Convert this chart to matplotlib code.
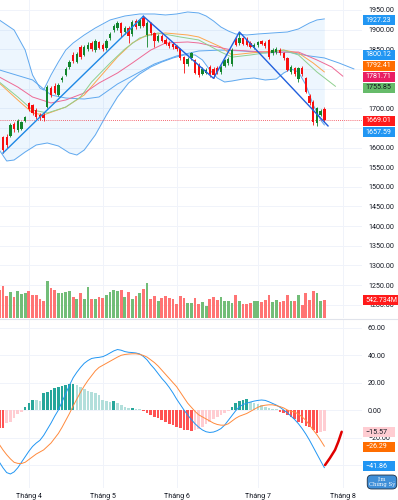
import matplotlib
matplotlib.use('Agg')
import matplotlib.pyplot as plt
from matplotlib.patches import Rectangle
import numpy as np

plt.rcParams['font.family'] = ['Roboto', 'DejaVu Sans']

# ---------------- data (daily bars, index 0..88) ----------------
opens = [1696, 1627, 1628, 1630, 1660, 1645, 1648, 1668, 1713, 1708,
         1696, 1684, 1684, 1703, 1751, 1756, 1733, 1771, 1785, 1805,
         1836, 1818, 1855, 1836, 1850, 1866, 1848, 1868, 1862, 1852,
         1878, 1898, 1905, 1917, 1894, 1904, 1888, 1922, 1908, 1930,
         1886, 1916, 1891, 1872, 1884, 1874, 1866, 1864, 1858, 1850,
         1830, 1812, 1828, 1822, 1810, 1788, 1790, 1806, 1800, 1803,
         1792, 1808, 1815, 1812, 1875, 1866, 1878, 1876, 1866, 1853,
         1860, 1870, 1866, 1873, 1840, 1843, 1848, 1840, 1828, 1792,
         1802, 1774, 1802, 1776, 1730, 1716, 1662, 1684, 1697]
closes = [1637, 1594, 1606, 1657, 1648, 1668, 1664, 1677, 1697, 1688,
          1678, 1675, 1674, 1755, 1733, 1740, 1759, 1777, 1800, 1818,
          1820, 1838, 1830, 1855, 1862, 1850, 1872, 1854, 1850, 1872,
          1890, 1910, 1916, 1892, 1904, 1885, 1920, 1906, 1924, 1910,
          1917, 1891, 1870, 1884, 1872, 1864, 1858, 1855, 1850, 1828,
          1812, 1826, 1840, 1790, 1785, 1800, 1798, 1786, 1784, 1792,
          1806, 1822, 1826, 1848, 1862, 1878, 1864, 1862, 1856, 1862,
          1868, 1864, 1858, 1830, 1848, 1851, 1840, 1828, 1798, 1805,
          1786, 1802, 1786, 1742, 1714, 1664, 1700, 1694, 1669.01]
highs = [1700, 1630, 1634, 1662, 1666, 1672, 1668, 1681, 1717, 1712,
         1700, 1688, 1690, 1758, 1757, 1764, 1763, 1783, 1805, 1822,
         1842, 1842, 1860, 1860, 1868, 1872, 1876, 1872, 1866, 1876,
         1894, 1914, 1922, 1920, 1908, 1908, 1924, 1926, 1928, 1934,
         1921, 1920, 1895, 1888, 1888, 1878, 1870, 1868, 1862, 1854,
         1834, 1830, 1844, 1826, 1814, 1805, 1802, 1810, 1804, 1808,
         1810, 1826, 1830, 1852, 1880, 1894, 1882, 1880, 1870, 1866,
         1872, 1874, 1870, 1876, 1852, 1855, 1852, 1844, 1831, 1809,
         1806, 1806, 1808, 1780, 1735, 1720, 1704, 1698, 1702]
lows = [1632, 1586, 1600, 1626, 1640, 1640, 1644, 1664, 1694, 1684,
        1672, 1671, 1667, 1700, 1728, 1736, 1730, 1766, 1782, 1800,
        1816, 1814, 1826, 1832, 1846, 1846, 1844, 1850, 1845, 1848,
        1874, 1894, 1900, 1880, 1890, 1866, 1884, 1902, 1904, 1906,
        1856, 1886, 1856, 1868, 1868, 1860, 1854, 1851, 1846, 1824,
        1790, 1808, 1824, 1786, 1780, 1784, 1786, 1780, 1776, 1788,
        1788, 1804, 1810, 1808, 1858, 1862, 1860, 1858, 1852, 1850,
        1856, 1860, 1854, 1826, 1836, 1839, 1836, 1824, 1794, 1788,
        1782, 1768, 1782, 1738, 1708, 1658, 1656, 1680, 1666]
volume_m = [830, 958, 661, 759, 623, 789, 720, 741, 789, 691,
            691, 563, 513, 1085, 890, 818, 741, 741, 771, 789,
            611, 572, 741, 563, 919, 572, 572, 611, 593, 691,
            759, 839, 809, 839, 623, 759, 572, 661, 741, 860,
            1038, 563, 640, 492, 593, 661, 593, 563, 424, 643,
            593, 442, 442, 593, 424, 463, 365, 563, 623, 543,
            611, 492, 513, 442, 691, 492, 415, 415, 442, 513,
            492, 463, 543, 691, 463, 543, 463, 492, 691, 492,
            513, 691, 394, 741, 543, 809, 741, 513, 542.734]

# Bollinger bands (read at sampled bars)
bb_upper_idx = [0, 4, 7, 9, 11, 12, 14, 16, 18, 20, 23, 26, 30, 34, 38, 42, 45, 48,
                51, 54, 56, 58, 60, 62, 64, 67, 70, 74, 78, 81, 84, 86, 88]
bb_upper = [1924.6, 1899.1, 1848.2, 1784.6, 1751.5, 1746.4, 1784.6, 1817.7, 1848.2,
            1866.0, 1886.4, 1904.2, 1924.6, 1934.7, 1939.8, 1939.8, 1937.3, 1939.8,
            1944.9, 1942.4, 1934.7, 1922.0, 1906.7, 1896.6, 1888.9, 1886.4, 1888.9,
            1891.5, 1894.0, 1901.7, 1916.9, 1924.6, 1927.23]
bb_lower_idx = [0, 2, 4, 7, 10, 13, 16, 19, 21, 23, 26, 29, 32, 35, 38, 41, 44, 47,
                50, 53, 55, 57, 59, 61, 63, 66, 69, 72, 75, 77, 79, 81, 83, 85, 87, 88]
bb_lower = [1593.8, 1565.8, 1568.3, 1588.7, 1606.5, 1611.6, 1604.0, 1586.1, 1581.0,
            1593.8, 1632.1, 1682.8, 1728.6, 1764.2, 1787.2, 1805.0, 1817.7, 1827.9,
            1835.5, 1835.5, 1822.8, 1797.3, 1777.0, 1766.8, 1769.3, 1774.4, 1777.0,
            1771.9, 1774.4, 1789.7, 1799.9, 1792.2, 1759.2, 1708.3, 1670.1, 1657.59]

# shifted averages (extend past last bar)
jaw_idx = [0, 9, 14, 18, 23, 27, 32, 36, 42, 48, 54, 60, 66, 72, 78, 84, 88, 92, 96]
jaw = [1797.5, 1772, 1733.7, 1726, 1723.5, 1728.6, 1761.7, 1782, 1812.6, 1833,
       1845.7, 1848, 1845.7, 1840.6, 1843, 1833, 1828, 1815, 1800.12]
teeth_idx = [0, 5, 9, 14, 18, 23, 27, 32, 36, 41, 45, 51, 54, 63, 72, 81, 86, 90, 93]
teeth = [1779.5, 1754, 1728.6, 1713.4, 1721, 1738.8, 1764.2, 1789.7, 1815, 1848,
         1866, 1868.6, 1866, 1848, 1843, 1843, 1822.8, 1805, 1781.71]
lips_idx = [0, 5, 9, 13, 18, 22, 25, 30, 34, 38, 43, 49, 54, 60, 63, 68, 77, 81, 86, 91]
lips = [1766.8, 1728.6, 1695.5, 1688, 1703, 1728.6, 1766.8, 1815, 1850.8, 1878.8,
        1891.5, 1881.3, 1873.7, 1843, 1830, 1835.5, 1848, 1835.5, 1792.2, 1755.85]
ema_idx = [0, 5, 9, 12, 18, 23, 27, 32, 36, 40, 45, 51, 54, 60, 63, 68, 77, 81, 85, 88]
ema = [1764, 1721, 1688, 1683, 1703, 1733.7, 1777, 1830.4, 1866, 1886.4, 1891.5,
       1886.4, 1881.3, 1855.8, 1835.5, 1840.6, 1848, 1840.6, 1815, 1792.41]

# zigzag swing points
zz_idx = [1, 39, 58, 65, 89]
zz_price = [1586, 1934, 1776, 1894, 1655]

# MACD (one value per bar)
macd = [-37.8, -42, -45.5, -46.5, -45, -42, -38, -34, -30, -26.5,
        -24, -22, -18.5, -14, -9.5, -4.5, 0, 6, 12, 18,
        23.5, 27.5, 31, 34, 36, 37.5, 38, 38.3, 38.8, 40,
        41.5, 43, 44, 43.5, 42.5, 42, 41.8, 41.5, 40.8, 39,
        36.5, 33, 30, 26.5, 23, 20, 16.5, 12.5, 8, 4,
        0, -3.5, -7, -10, -12.5, -14.5, -15.8, -16.3, -16, -15,
        -13.5, -11, -7.5, -4, -0.5, 2.4, 4, 5, 5.8, 6.5,
        7, 7.3, 7, 6, 4.8, 3.6, 2, 0, -2, -4.5,
        -7, -10, -13.5, -17.5, -22, -27, -32, -37, -41.86]
signal = [-25, -29, -32.5, -35.5, -38, -38.8, -38.9, -38, -36, -34,
          -32, -30.5, -29, -26.5, -24, -20.5, -17, -12.5, -7.5, -2.5,
          3, 8, 13, 17.5, 21.5, 25, 28.5, 31, 32.5, 34,
          35.5, 37, 38.5, 39.8, 40.4, 40.7, 40.9, 40.9, 40.5, 39.7,
          38.5, 36.5, 34.5, 32, 29, 26, 23, 20, 17, 13,
          9, 5, 2, -1, -3.5, -5, -6.5, -8, -9.5, -10.5,
          -11, -11, -10, -8, -6, -4.5, -3.5, -2.5, -1, 0.5,
          2, 3, 3.5, 3.8, 3.8, 3.2, 2.5, 1.5, 0, -1,
          -1.5, -3, -5, -7.5, -11, -14.5, -18, -22, -26.29]
hist = [-13.3, -13.3, -9.7, -9.0, -6.0, -2.9, -1.2, 1.9, 5.3, 7.3,
        7.0, 6.8, 12.6, 13.3, 14.5, 15.8, 17.0, 17.5, 18.2, 18.7,
        19.0, 18.2, 16.5, 15.0, 14.0, 13.3, 12.1, 10.9, 7.3, 6.8,
        6.0, 6.8, 5.3, 3.6, 2.4, 1.2, 1.7, 1.0, 0.5, -0.7,
        -1.9, -3.6, -4.8, -6.0, -7.3, -8.5, -10.2, -10.9, -12.1, -13.3,
        -14.5, -14.8, -15.0, -14.5, -14.0, -12.1, -10.2, -8.5, -6.8, -4.8,
        -3.6, -1.9, -0.7, 2.4, 4.8, 6.8, 7.3, 7.8, 6.1, 5.3,
        4.4, 3.4, 2.4, 1.7, 1.0, 0.5, -1.2, -2.4, -3.6, -5.3,
        -6.8, -8.5, -9.7, -11.6, -12.6, -14.5, -17.0, -16.0, -15.57]

month_idx = [8, 28, 48, 70, 93]
month_labels = ['Tháng 4', 'Tháng 5', 'Tháng 6', 'Tháng 7', 'Tháng 8']

last_price = 1669.01

# ---------------- layout ----------------
W, H = 398, 500
TXT = '#131722'
GRID = '#f0f3fa'
FS = 5.1


def rect(x0, y0, x1, y1):
    return [x0 / W, 1 - y1 / H, (x1 - x0) / W, (y1 - y0) / H]


fig = plt.figure(figsize=(W / 100, H / 100), dpi=100, facecolor='white')
ax = fig.add_axes(rect(0, 0, 362, 318))
axv = fig.add_axes(rect(0, 238, 362, 318))
axm = fig.add_axes(rect(0, 319, 362, 488))

XL = (0.19, 98.2)
idx = np.arange(len(closes))
o = np.array(opens); c = np.array(closes)
up = c >= o

for a in (ax, axm):
    for s in a.spines.values():
        s.set_visible(False)
    a.set_xlim(*XL)
    a.yaxis.tick_right()
    a.tick_params(axis='y', length=0, pad=4.3, labelsize=FS, labelcolor=TXT)
    a.set_facecolor('none')
    for m in month_idx:
        a.axvline(m, color=GRID, lw=0.7, zorder=0)

# price pane; labels hidden under the value tags are left blank
price_ticks = np.arange(1200, 1951, 50)
hidden = {1650, 1750, 1800}
ax.set_ylim(1166.3, 1975.4)
ax.set_yticks(price_ticks)
ax.set_yticklabels(['' if v in hidden else '%.2f' % v for v in price_ticks])
ax.set_xticks([])
for v in price_ticks:
    ax.axhline(v, color=GRID, lw=0.7, zorder=0)

fx = np.arange(0, 89)
ax.fill_between(fx, np.interp(fx, bb_lower_idx, bb_lower), np.interp(fx, bb_upper_idx, bb_upper),
                color='#2196f3', alpha=0.08, lw=0, zorder=1)
ax.plot(bb_upper_idx, bb_upper, color='#5fa8ef', lw=0.7, zorder=2)
ax.plot(bb_lower_idx, bb_lower, color='#5fa8ef', lw=0.7, zorder=2)
ax.plot(jaw_idx, jaw, color='#5fa8ef', lw=0.7, zorder=2)
ax.plot(ema_idx, ema, color='#ffa64d', lw=0.7, zorder=2)
ax.plot(teeth_idx, teeth, color='#ee6a95', lw=0.7, zorder=2)
ax.plot(lips_idx, lips, color='#8fcf8f', lw=0.7, zorder=2)

ax.axhline(last_price, color='#f23645', lw=0.6, ls=(0, (1, 1.5)), zorder=2)

ccol = np.where(up, '#11852b', '#f70e0e')
ax.vlines(idx, lows, highs, colors=ccol, lw=0.6, zorder=3)
ax.bar(idx, np.maximum(np.abs(c - o), 1.5), bottom=np.minimum(o, c), width=0.64,
       color=ccol, lw=0, zorder=4)

ax.plot(zz_idx[:2], zz_price[:2], color='#1e88e5', lw=1.0, zorder=5)
ax.plot(zz_idx[1:], zz_price[1:], color='#2260dd', lw=1.0, zorder=5)

# volume overlay
axv.set_xlim(*XL)
axv.set_ylim(0, 80 * 29.65)
axv.axis('off')
axv.bar(idx, volume_m, width=0.75, color=np.where(up, '#72bd78', '#ff7474'), lw=0)

# MACD pane
macd_ticks = [-40, -20, 0, 20, 40, 60]
axm.set_ylim(-56.7, 66.2)
axm.set_yticks(macd_ticks)
axm.set_yticklabels(['' if v == -40 else ('%.2f' % v if v >= 0 else '\u2212%.2f' % -v)
                     for v in macd_ticks])
for v in macd_ticks:
    axm.axhline(v, color=GRID, lw=0.7, zorder=0)
axm.set_xticks(month_idx)
axm.set_xticklabels(month_labels)
axm.tick_params(axis='x', length=0, pad=3.6, labelsize=FS, labelcolor=TXT)

hcol = []
for i, v in enumerate(hist):
    prev = hist[i - 1] if i > 0 else v
    if v >= 0:
        hcol.append('#26a69a' if v >= prev else '#b2dfdb')
    else:
        hcol.append('#ff5252' if v <= prev else '#ffcdd2')
axm.bar(idx, hist, width=0.72, color=hcol, lw=0, zorder=2)
axm.plot(idx, macd, color='#2196f3', lw=0.7, zorder=3)
axm.plot(idx, signal, color='#ff8a3d', lw=0.7, zorder=3)
# hand-drawn red stroke at the end
axm.plot([88.2, 89.5, 90.9, 91.8, 92.7], [-40, -35, -29, -23, -15.8],
         color='#e00000', lw=1.8, solid_capstyle='round', zorder=4)

fig.add_artist(plt.Line2D([0, 1], [1 - 318.5 / H, 1 - 318.5 / H], color='#e0e3eb', lw=0.8))


def tag(y, text, bg, fg='white', w=32):
    fig.add_artist(Rectangle((363 / W, 1 - (y + 5) / H), w / W, 10 / H,
                             transform=fig.transFigure, fc=bg, ec='none', zorder=5))
    fig.text(365 / W, 1 - y / H, text, ha='left', va='center', color=fg,
             fontsize=FS, zorder=6)


tag(20, '1927.23', '#2196f3')
tag(55, '1800.12', '#2196f3')
tag(65.7, '1792.41', '#ff6d00')
tag(76.7, '1781.71', '#e91e63')
tag(87.7, '1755.85', '#66bb6a', fg='#131722')
tag(120.7, '1669.01', '#ff1a1a')
tag(132.3, '1657.59', '#2196f3')
tag(300, '542.734M', '#ff1a1a', w=40)
tag(432, '\u221215.57', '#ffcdd2', fg='#131722')
tag(447, '\u221226.29', '#ff6d00')
tag(466, '\u221241.86', '#2196f3')

fig.text(382 / W, 1 - 482 / H, "I'm\nChứng Sỹ", ha='center', va='center', color='white',
         fontsize=3.9, family=['DejaVu Serif', 'DejaVu Sans'], linespacing=1.0, zorder=7,
         bbox=dict(boxstyle='round,pad=0.3,rounding_size=0.8', fc='#3f8fd8', ec='#1c2e44', lw=0.6))

fig.savefig('out.png', dpi=100, facecolor='white')
